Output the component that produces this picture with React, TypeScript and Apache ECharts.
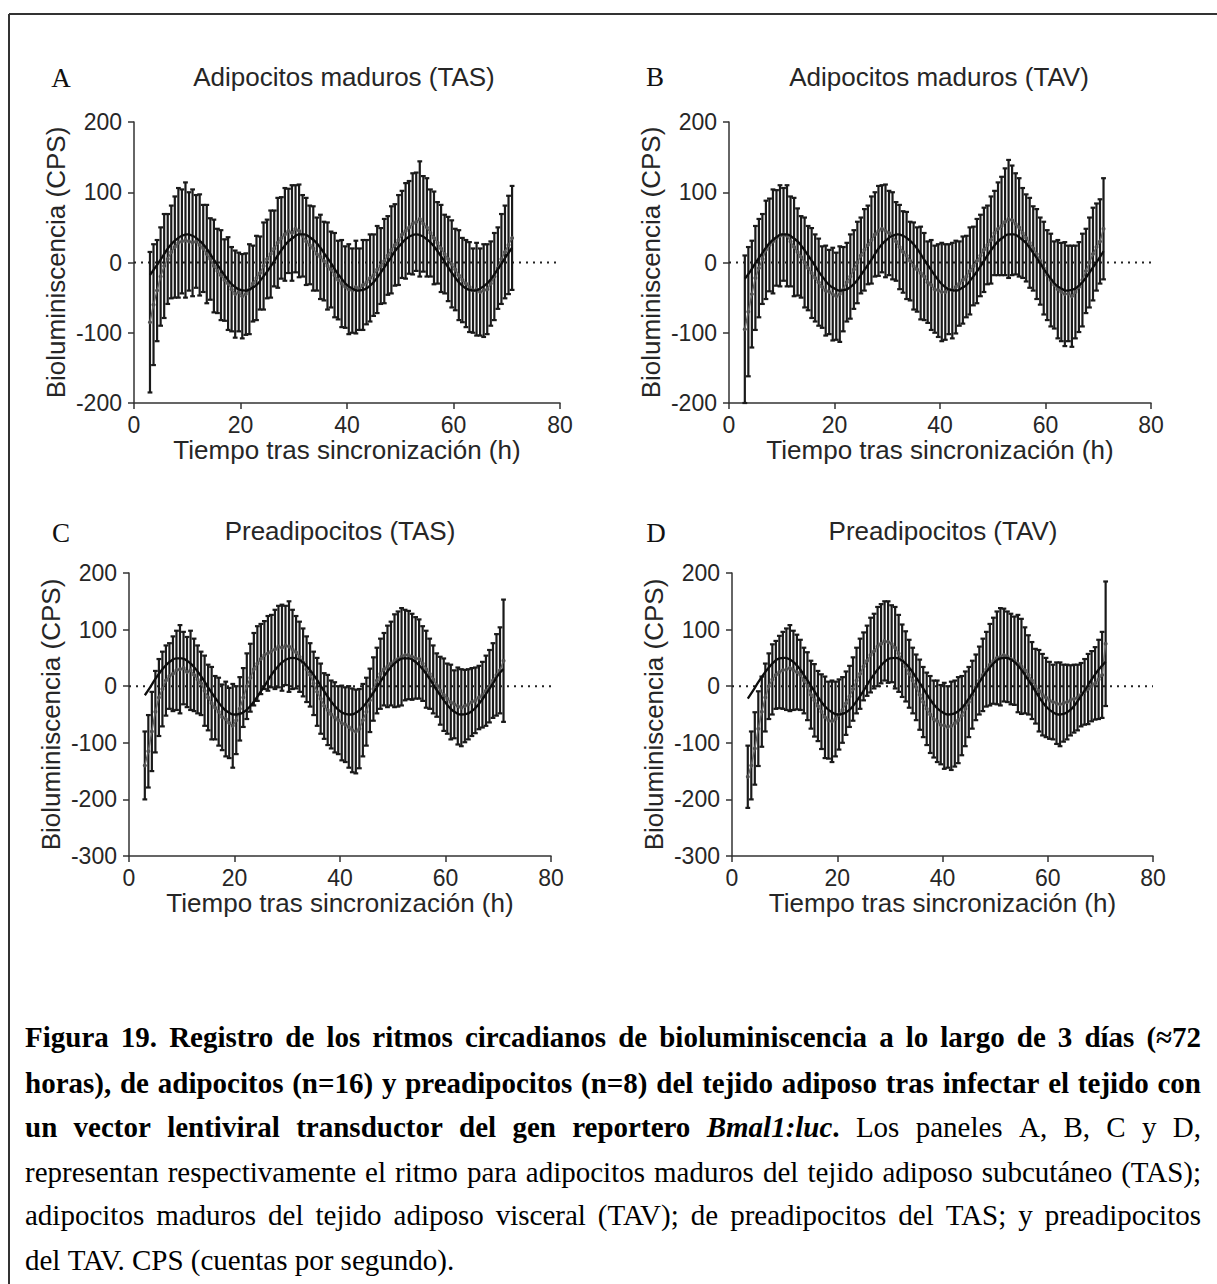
import React, { useEffect, useRef } from "react";
import * as echarts from "echarts";

// ---------- sampling grid ----------
const START_H = 3;
const STEP_H = 2 / 3;
const FIT_HOURS_START = 3;

// ---------- axis ticks ----------
const X_MIN = 0;
const X_MAX = 80;
const X_INTERVAL = 20;
const Y_INTERVAL = 100;

// ---------- Panel A: Adipocitos maduros (TAS) ----------
const meanA = [
  -85, -60, -40, -20, -5, 5, 15, 22, 28, 30, 32, 30, 28, 30, 25, 20, 12, 5,
  -5, -12, -18, -25, -30, -38, -45, -42, -48, -45, -38, -30, -22, -15, -5, 5, 12, 20,
  28, 35, 40, 45, 42, 48, 45, 38, 30, 25, 20, 12, 8, 2, -5, -10, -18, -25,
  -30, -35, -38, -40, -35, -38, -32, -28, -22, -18, -10, -5, 2, 10, 18, 25, 32, 40,
  45, 50, 55, 58, 62, 55, 50, 42, 35, 28, 20, 12, 5, -2, -10, -18, -25, -30,
  -35, -40, -38, -42, -40, -38, -30, -20, -8, 5, 15, 25, 35,
];
const sdA = [
  100, 86, 72, 70, 74, 64, 66, 72, 78, 74, 82, 70, 76, 66, 72, 62, 70, 58,
  66, 60, 64, 58, 66, 60, 62, 56, 60, 58, 64, 54, 60, 52, 62, 56, 62, 54,
  64, 58, 66, 60, 68, 62, 66, 58, 62, 56, 60, 52, 60, 56, 62, 54, 60, 56,
  62, 58, 64, 60, 66, 58, 64, 60, 62, 58, 62, 54, 60, 56, 62, 58, 64, 62,
  68, 66, 72, 70, 82, 68, 70, 62, 66, 58, 62, 56, 60, 62, 58, 64, 60, 62,
  64, 60, 66, 62, 66, 64, 60, 62, 58, 64, 66, 70, 74,
];
const fitA = [
  -18, -7, 4, 16, 26, 33, 38, 40, 38, 33, 26, 16, 4, -7, -18, -28, -35, -39, -40, -37,
  -32, -23, -13, -2, 10, 21, 30, 36, 40, 40, 36, 30, 21, 10, -1, -13, -23, -32, -37, -40,
  -39, -35, -28, -18, -7, 4, 16, 25, 33, 38, 40, 38, 33, 26, 16, 5, -7, -18, -28, -35,
  -39, -40, -37, -32, -24, -13, -2, 10, 21,
];

// ---------- Panel B: Adipocitos maduros (TAV) ----------
const meanB = [
  -95, -70, -45, -22, -8, 5, 18, 25, 30, 35, 38, 40, 38, 30, 22, 15, 8, 0,
  -8, -15, -22, -28, -35, -40, -42, -45, -48, -45, -38, -28, -20, -10, 0, 10, 18, 25,
  32, 40, 45, 48, 45, 42, 38, 30, 22, 15, 10, 2, -5, -10, -15, -20, -28, -32,
  -38, -40, -42, -42, -38, -40, -35, -30, -25, -20, -12, -5, 2, 10, 18, 25, 32, 42,
  48, 52, 58, 62, 60, 55, 50, 42, 35, 28, 20, 12, 2, -8, -18, -25, -32, -38,
  -42, -45, -44, -48, -42, -35, -25, -12, 0, 12, 22, 30, 48,
];
const sdB = [
  105, 92, 76, 74, 70, 64, 70, 66, 74, 68, 72, 66, 72, 64, 70, 62, 58, 64,
  60, 64, 62, 62, 58, 64, 60, 66, 62, 68, 60, 56, 60, 56, 58, 54, 58, 56,
  62, 60, 64, 62, 66, 60, 62, 56, 60, 58, 62, 56, 62, 60, 66, 62, 58, 64,
  62, 66, 70, 68, 64, 68, 66, 60, 62, 58, 62, 56, 60, 58, 60, 56, 62, 60,
  66, 70, 76, 84, 78, 72, 70, 64, 62, 64, 60, 64, 62, 66, 64, 66, 62, 70,
  70, 74, 68, 72, 66, 64, 66, 60, 64, 66, 62, 60, 72,
];
const fitB = [
  -23, -13, -1, 10, 21, 30, 36, 40, 40, 36, 30, 21, 10, -1, -13, -23, -32, -37, -40, -39,
  -35, -28, -18, -7, 4, 16, 26, 33, 38, 40, 38, 33, 26, 16, 4, -7, -18, -28, -35, -39,
  -40, -37, -32, -23, -13, -2, 10, 21, 30, 36, 40, 40, 36, 30, 21, 10, -1, -13, -23, -32,
  -37, -40, -39, -35, -28, -18, -7, 4, 16,
];

// ---------- Panel C: Preadipocitos (TAS) ----------
const meanC = [
  -140, -115, -80, -45, -20, -5, 10, 18, 22, 28, 30, 32, 25, 28, 20, 12, 5, -8,
  -20, -30, -38, -45, -55, -58, -65, -70, -60, -40, -20, 0, 15, 30, 40, 48, 55, 58,
  62, 65, 70, 68, 72, 70, 65, 60, 52, 42, 30, 20, 5, -10, -22, -35, -42, -50,
  -55, -60, -65, -68, -72, -78, -80, -75, -60, -45, -25, -5, 10, 22, 30, 35, 40, 45,
  48, 52, 55, 55, 52, 50, 48, 40, 30, 22, 12, 2, -8, -15, -22, -28, -32, -35,
  -38, -35, -32, -28, -25, -20, -15, -8, 0, 10, 20, 28, 45,
];
const sdC = [
  60, 64, 70, 72, 68, 66, 62, 58, 66, 70, 78, 64, 62, 70, 64, 60, 56, 62,
  58, 64, 56, 60, 58, 66, 62, 74, 60, 56, 52, 58, 60, 64, 66, 62, 60, 66,
  64, 70, 72, 76, 70, 80, 70, 64, 62, 60, 58, 56, 56, 60, 62, 58, 62, 60,
  62, 60, 66, 66, 72, 74, 74, 70, 64, 60, 56, 56, 58, 62, 64, 72, 74, 82,
  84, 86, 80, 78, 76, 72, 70, 66, 68, 62, 60, 56, 60, 64, 62, 66, 60, 68,
  68, 64, 62, 60, 58, 56, 58, 62, 64, 66, 72, 76, 108,
];
const fitC = [
  -16, -2, 13, 26, 37, 45, 49, 49, 45, 37, 26, 13, -2, -16, -29, -40, -47, -50, -49, -44,
  -35, -23, -9, 5, 20, 32, 42, 48, 50, 48, 42, 32, 20, 6, -9, -23, -35, -44, -49, -50,
  -47, -40, -29, -16, -2, 13, 26, 37, 45, 49, 49, 45, 37, 26, 13, -2, -16, -29, -40, -47,
  -50, -49, -44, -35, -23, -9, 5, 20, 30,
];

// ---------- Panel D: Preadipocitos (TAV) ----------
const meanD = [
  -160, -140, -110, -75, -45, -20, 0, 12, 20, 25, 28, 30, 32, 28, 25, 20, 10, 0,
  -15, -25, -35, -45, -55, -60, -62, -58, -50, -42, -30, -18, -5, 10, 22, 35, 45, 55,
  62, 70, 75, 80, 78, 75, 68, 58, 45, 35, 22, 10, -2, -15, -28, -40, -50, -58,
  -62, -68, -70, -72, -70, -66, -60, -52, -40, -28, -15, -2, 10, 20, 30, 38, 45, 50,
  52, 55, 52, 48, 45, 40, 35, 28, 20, 10, 0, -8, -15, -20, -25, -28, -30, -32,
  -30, -28, -25, -22, -20, -15, -10, -5, 0, 5, 12, 20, 75,
];
const sdD = [
  55, 60, 64, 66, 62, 60, 58, 62, 60, 64, 68, 72, 76, 70, 66, 62, 58, 60,
  60, 64, 62, 66, 72, 68, 72, 66, 62, 58, 56, 54, 56, 58, 62, 60, 62, 66,
  66, 70, 70, 70, 72, 68, 72, 68, 64, 62, 60, 58, 58, 62, 62, 64, 68, 68,
  72, 70, 76, 72, 78, 76, 76, 70, 66, 62, 60, 58, 60, 64, 66, 72, 76, 82,
  86, 82, 80, 80, 78, 86, 84, 76, 70, 68, 66, 72, 72, 70, 68, 66, 72, 74,
  68, 66, 62, 60, 58, 56, 58, 62, 62, 64, 70, 76, 110,
];
const fitD = [
  -22, -8, 7, 21, 33, 43, 49, 50, 47, 40, 29, 15, 1, -14, -28, -39, -46, -50, -49, -44,
  -35, -22, -8, 7, 21, 33, 43, 49, 50, 47, 40, 29, 15, 1, -14, -28, -39, -46, -50, -49,
  -44, -35, -22, -8, 7, 21, 33, 43, 49, 50, 47, 40, 29, 15, 1, -14, -28, -39, -46, -50,
  -49, -44, -35, -22, -8, 7, 21, 33, 43,
];

// ---------- texts ----------
const X_NAME = "Tiempo tras sincronización (h)";
const Y_NAME = "Bioluminiscencia (CPS)";

type Seg = [string, "b" | "bi" | "n"];
type Word = Seg[];
const w = (t: string, f: "b" | "bi" | "n"): Word => [[t, f]];
const words = (s: string, f: "b" | "n"): Word[] => s.split(" ").map((t) => w(t, f));

const CAPTION_LINES: { words: Word[]; justify: boolean }[] = [
  { words: words("Figura 19. Registro de los ritmos circadianos de bioluminiscencia a lo largo de 3 días (≈72", "b"), justify: true },
  { words: words("horas), de adipocitos (n=16) y preadipocitos (n=8) del tejido adiposo tras infectar el tejido con", "b"), justify: true },
  {
    words: [
      ...words("un vector lentiviral transductor del gen reportero", "b"),
      [["Bmal1:luc", "bi"], [".", "b"]],
      ...words("Los paneles A, B, C y D,", "n"),
    ],
    justify: true,
  },
  { words: words("representan respectivamente el ritmo para adipocitos maduros del tejido adiposo subcutáneo (TAS);", "n"), justify: true },
  { words: words("adipocitos maduros del tejido adiposo visceral (TAV); de preadipocitos del TAS; y preadipocitos", "n"), justify: true },
  { words: words("del TAV. CPS (cuentas por segundo).", "n"), justify: false },
];

const PANELS = [
  { letter: "A", title: "Adipocitos maduros (TAS)", mean: meanA, sd: sdA, fit: fitA, yMin: -200, yMax: 200,
    grid: { left: 134, top: 122, width: 426, height: 281 }, letterPos: [61, 78], titlePos: [344, 77] },
  { letter: "B", title: "Adipocitos maduros (TAV)", mean: meanB, sd: sdB, fit: fitB, yMin: -200, yMax: 200,
    grid: { left: 729, top: 122, width: 422, height: 281 }, letterPos: [655, 77], titlePos: [939, 77] },
  { letter: "C", title: "Preadipocitos (TAS)", mean: meanC, sd: sdC, fit: fitC, yMin: -300, yMax: 200,
    grid: { left: 129, top: 573, width: 422, height: 283 }, letterPos: [61, 533], titlePos: [340, 531] },
  { letter: "D", title: "Preadipocitos (TAV)", mean: meanD, sd: sdD, fit: fitD, yMin: -300, yMax: 200,
    grid: { left: 732, top: 573, width: 421, height: 283 }, letterPos: [656, 533], titlePos: [943, 531] },
];

const SANS = '"Liberation Sans", Arial, sans-serif';
const SERIF = '"Liberation Serif", "Times New Roman", serif';
const TEXT_COLOR = "#262626";
const AXIS_COLOR = "#333333";

const CAP_SIZE = 29;
const CAP_LEFT = 25;
const CAP_RIGHT = 1201;
const CAP_Y = [1037, 1083, 1127, 1172, 1215, 1260];

function capFont(f: string) {
  const it = f === "bi" ? "italic " : "";
  const bd = f === "b" || f === "bi" ? "bold " : "";
  return `${it}${bd}${CAP_SIZE}px ${SERIF}`;
}

function buildCaption(): any[] {
  const canvas = document.createElement("canvas");
  const ctx = canvas.getContext("2d")!;
  const measure = (t: string, f: string) => {
    ctx.font = capFont(f);
    return ctx.measureText(t).width;
  };
  const els: any[] = [];
  CAPTION_LINES.forEach((line, li) => {
    const widths = line.words.map((wd) => wd.reduce((s, [t, f]) => s + measure(t, f), 0));
    const total = widths.reduce((a, b) => a + b, 0);
    const n = line.words.length;
    let gap = line.justify && n > 1 ? (CAP_RIGHT - CAP_LEFT - total) / (n - 1) : measure(" ", "n");
    if (gap < 3) gap = 3;
    let x = CAP_LEFT;
    line.words.forEach((wd, wi) => {
      let sx = x;
      wd.forEach(([t, f]) => {
        els.push({
          type: "text",
          x: sx,
          y: CAP_Y[li],
          style: { text: t, font: capFont(f), fill: "#000", align: "left", verticalAlign: "middle", textAlign: "left", textVerticalAlign: "middle" },
        });
        sx += measure(t, f);
      });
      x += widths[wi] + gap;
    });
  });
  return els;
}

export default function App() {
  const ref = useRef<HTMLDivElement>(null);
  useEffect(() => {
    document.body.style.margin = "0";
    if (!ref.current) return;
    const chart = echarts.init(ref.current, undefined, { renderer: "svg" });

    const times = (len: number) => Array.from({ length: len }, (_, i) => START_H + i * STEP_H);

    const grids: any[] = [];
    const xAxes: any[] = [];
    const yAxes: any[] = [];
    const series: any[] = [];
    const graphics: any[] = [];

    PANELS.forEach((p, k) => {
      grids.push({ ...p.grid, containLabel: false });
      xAxes.push({
        type: "value", gridIndex: k, min: X_MIN, max: X_MAX, interval: X_INTERVAL,
        name: X_NAME, nameLocation: "middle", nameGap: 34,
        nameTextStyle: { fontFamily: SANS, fontSize: 26, color: TEXT_COLOR, lineHeight: 26 },
        axisLine: { onZero: false, lineStyle: { color: AXIS_COLOR, width: 1.5 } },
        axisTick: { show: true, length: 6, lineStyle: { color: AXIS_COLOR, width: 1.5 } },
        axisLabel: { fontFamily: SANS, fontSize: 23, color: TEXT_COLOR, margin: 10, lineHeight: 23 },
        splitLine: { show: false },
      });
      yAxes.push({
        type: "value", gridIndex: k, min: p.yMin, max: p.yMax, interval: Y_INTERVAL,
        name: Y_NAME, nameLocation: "middle", nameGap: 65,
        nameTextStyle: { fontFamily: SANS, fontSize: 26, color: TEXT_COLOR },
        axisLine: { show: true, lineStyle: { color: AXIS_COLOR, width: 1.5 } },
        axisTick: { show: true, length: 6, lineStyle: { color: AXIS_COLOR, width: 1.5 } },
        axisLabel: { fontFamily: SANS, fontSize: 23, color: TEXT_COLOR, margin: 12 },
        splitLine: { show: false },
      });

      const n = Math.min(p.mean.length, p.sd.length);
      const ts = times(n);

      series.push({
        type: "line", xAxisIndex: k, yAxisIndex: k, z: 1, silent: true,
        data: [[X_MIN, 0], [X_MAX, 0]], symbol: "none",
        lineStyle: { color: "#222", width: 2, type: [2, 5] },
      });
      series.push({
        type: "custom", xAxisIndex: k, yAxisIndex: k, z: 2, silent: true,
        coordinateSystem: "cartesian2d",
        encode: { x: 0, y: 1 },
        data: ts.map((t, i) => [t, p.mean[i], p.sd[i]]),
        renderItem: (params: any, api: any) => {
          const x = api.value(0);
          const m = api.value(1);
          const s = api.value(2);
          const top = api.coord([x, m + s]);
          const bot = api.coord([x, m - s]);
          const st = { stroke: "#1a1a1a", lineWidth: 2.2 };
          const hw = 2.4;
          return {
            type: "group",
            children: [
              { type: "line", shape: { x1: top[0], y1: top[1], x2: bot[0], y2: bot[1] }, style: st },
              { type: "line", shape: { x1: top[0] - hw, y1: top[1], x2: top[0] + hw, y2: top[1] }, style: st },
              { type: "line", shape: { x1: bot[0] - hw, y1: bot[1], x2: bot[0] + hw, y2: bot[1] }, style: st },
            ],
          };
        },
      });
      series.push({
        type: "line", xAxisIndex: k, yAxisIndex: k, z: 3, silent: true,
        data: ts.map((t, i) => [t, p.mean[i]]),
        symbol: "circle", symbolSize: 4, showSymbol: true,
        itemStyle: { color: "#505050" },
        lineStyle: { color: "#666666", width: 1.5 },
      });
      series.push({
        type: "line", xAxisIndex: k, yAxisIndex: k, z: 4, silent: true,
        data: p.fit.map((v, i) => [FIT_HOURS_START + i, v]),
        symbol: "none", smooth: true,
        lineStyle: { color: "#0d0d0d", width: 2.3 },
      });

      graphics.push({
        type: "text", x: p.letterPos[0], y: p.letterPos[1],
        style: { text: p.letter, font: `27px ${SERIF}`, fill: "#111", align: "center", verticalAlign: "middle", textAlign: "center", textVerticalAlign: "middle" },
      });
      graphics.push({
        type: "text", x: p.titlePos[0], y: p.titlePos[1],
        style: { text: p.title, font: `26px ${SANS}`, fill: TEXT_COLOR, align: "center", verticalAlign: "middle", textAlign: "center", textVerticalAlign: "middle" },
      });
    });

    // frame lines (top and left)
    graphics.push({ type: "line", shape: { x1: 9, y1: 14, x2: 1217, y2: 14 }, style: { stroke: "#333", lineWidth: 2 } });
    graphics.push({ type: "line", shape: { x1: 9, y1: 14, x2: 9, y2: 1284 }, style: { stroke: "#333", lineWidth: 2 } });

    graphics.push(...buildCaption());

    chart.setOption({
      animation: false,
      backgroundColor: "#ffffff",
      grid: grids,
      xAxis: xAxes,
      yAxis: yAxes,
      series,
      graphic: graphics,
    });
    return () => chart.dispose();
  }, []);
  return <div ref={ref} style={{ width: 1217, height: 1284 }} />;
}
